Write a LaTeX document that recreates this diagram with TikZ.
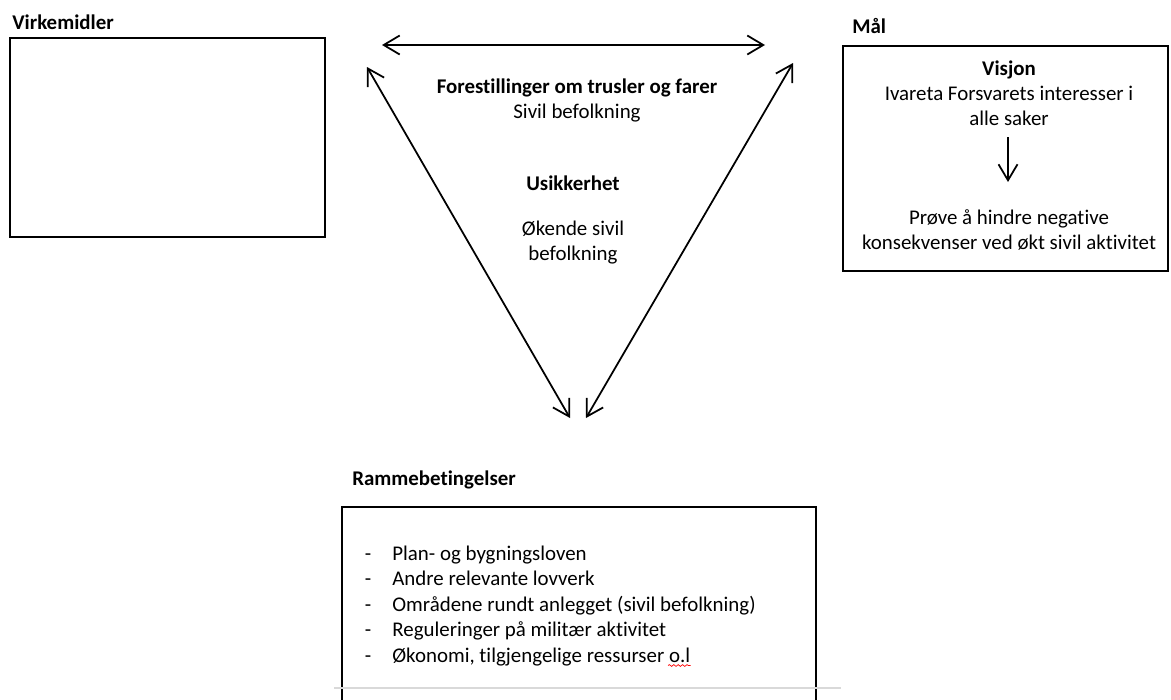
\documentclass[tikz,border=0pt]{standalone}
\usepackage{fontspec}
\setmainfont{Carlito}[RawFeature={-liga}]
\usetikzlibrary{arrows.meta,decorations.pathmorphing}

\newcommand{\diagfont}{\fontsize{11.9}{14.2}\selectfont}
\tikzset{
  frame/.style={draw, line width=1.3pt, inner sep=0pt},
  heading/.style={font=\diagfont\bfseries, inner sep=0pt},
  plain/.style={align=center, inner sep=0pt},
  link/.style={line width=1pt, {Straight Barb[length=3.2mm,width=3.8mm]}-{Straight Barb[length=3.2mm,width=3.8mm]}},
  spell/.style={red, line width=0.4pt, decorate, decoration={snake, amplitude=0.5pt, segment length=2.5pt}}
}

\begin{document}
\begin{tikzpicture}[x=0.02cm, y=-0.02cm, font=\diagfont]
  \useasboundingbox (0,0) rectangle (1171,700);

  % Virkemidler
  \node[heading, anchor=base west] (virkLabel) at (12,29) {Virkemidler};
  \node[frame, minimum width=6.3cm, minimum height=3.98cm] (virkBox) at (167.5,137.5) {};

  % Maal
  \node[heading, anchor=base west] (maalLabel) at (852,33) {Mål};
  \node[frame, minimum width=6.5cm, minimum height=4.5cm] (maalBox) at (1005.5,158.5) {};
  \node[plain] (visjon) at (1009,93) {\textbf{Visjon}\\Ivareta Forsvarets interesser i\\alle saker};
  \node[plain] (hindre) at (1009,230) {Prøve å hindre negative\\konsekvenser ved økt sivil aktivitet};
  \coordinate (visjonEnd) at (1008,137);
  \coordinate (hindreEnd) at (1008,182);
  \draw[line width=1pt, -{Straight Barb[length=3.2mm,width=3.8mm]}] (visjonEnd) -- (hindreEnd);

  % triangle
  \coordinate (topLeft) at (382,45);
  \coordinate (topRight) at (765,45);
  \coordinate (sideLeft) at (367,67);
  \coordinate (sideRight) at (793,63);
  \coordinate (bottomLeft) at (570,418);
  \coordinate (bottomRight) at (586,418);
  \draw[link] (topLeft) -- (topRight);
  \draw[link] (sideLeft) -- (bottomLeft);
  \draw[link] (sideRight) -- (bottomRight);

  \node[plain] (trusler) at (577,100) {\textbf{Forestillinger om trusler og farer}\\Sivil befolkning};
  \node[heading] (usikker) at (573,183) {Usikkerhet};
  \node[plain] (okende) at (573,243) {Økende sivil\\befolkning};

  % Rammebetingelser
  \node[heading, anchor=base west] (rammeLabel) at (352,485) {Rammebetingelser};
  \draw[line width=1.3pt] (342,700) |- (816,507) -- (816,700);
  \foreach \t [count=\i] in {Plan- og bygningsloven, Andre relevante lovverk,
      Områdene rundt anlegget (sivil befolkning), Reguleringer på militær aktivitet,
      {Økonomi, tilgjengelige ressurser o.l}} {
    \node[inner sep=0pt, anchor=base] (dash\i) at (368,{535+25.4*\i}) {-};
    \node[inner sep=0pt, anchor=base west] (item\i) at (392,{535+25.4*\i}) {\t};
  }
  \draw[spell] ([xshift=-0.45cm, yshift=-2pt]item5.base east) -- ([yshift=-2pt]item5.base east);
  \draw[gray!30, line width=0.8pt] (334,688) -- (841,688);
\end{tikzpicture}
\end{document}
